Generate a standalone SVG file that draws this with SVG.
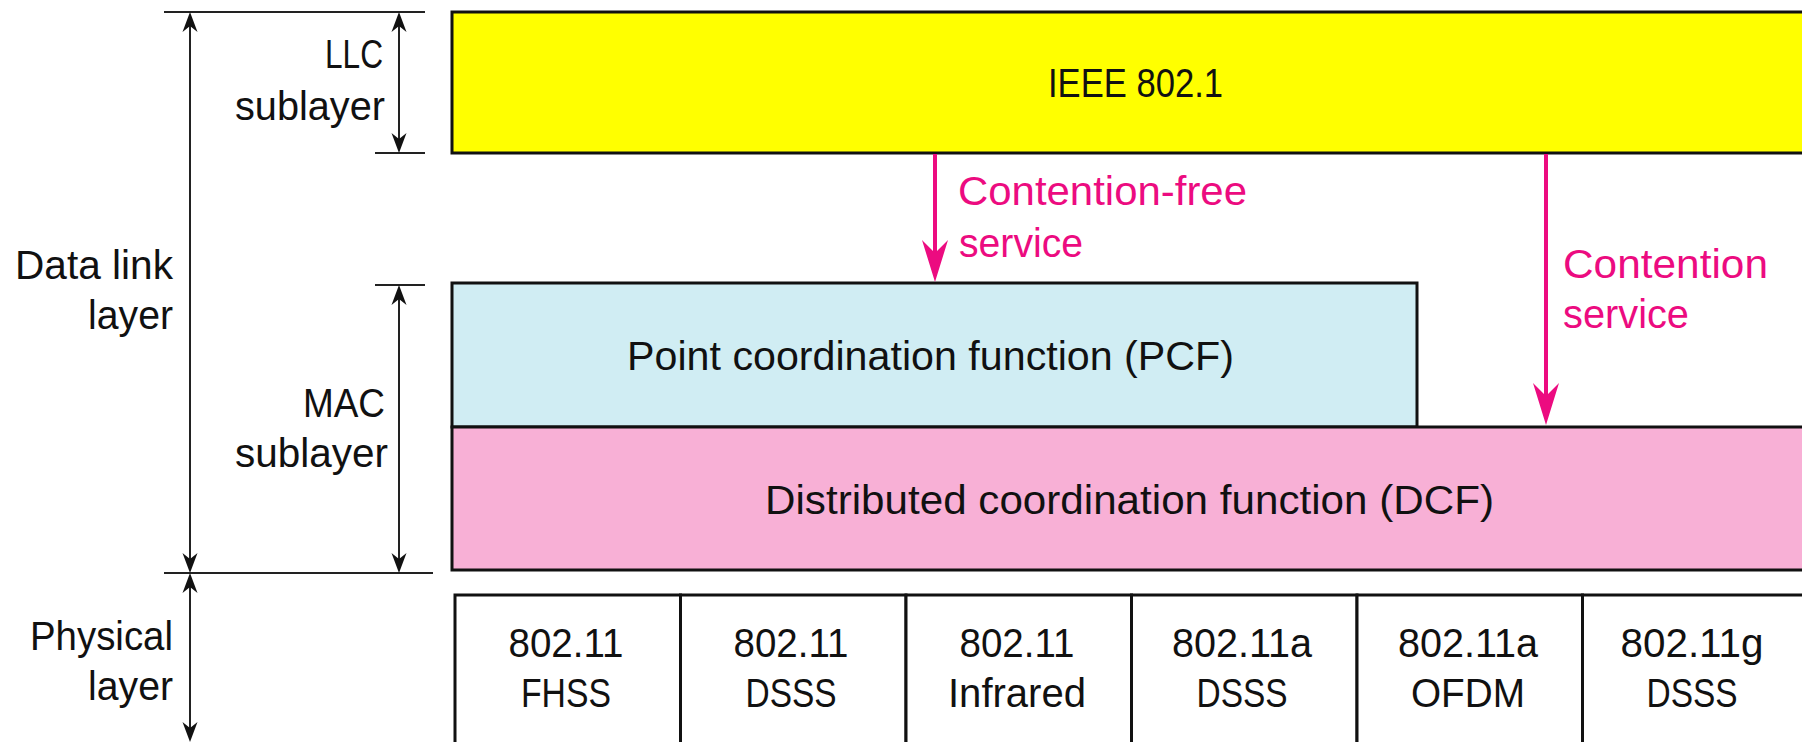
<svg xmlns="http://www.w3.org/2000/svg" width="1802" height="742" viewBox="0 0 1802 742">
<style>
text{font-family:"Liberation Sans",Arial,sans-serif;font-size:41px;fill:#111}
.pink{fill:#EC0B80}
.box{stroke:#111;stroke-width:3}
.dim{stroke:#222;stroke-width:2;fill:none}
.parr{stroke:#EC0B80;stroke-width:4;fill:none}
.mid{text-anchor:middle}
</style>
<defs>
<marker id="bk" markerUnits="userSpaceOnUse" markerWidth="22" markerHeight="18" viewBox="0 -9 22 18" refX="6" refY="0" orient="auto-start-reverse">
<path d="M20,0 L0,-7.5 L6,0 L0,7.5 Z" fill="#111"/>
</marker>
<marker id="pk" markerUnits="userSpaceOnUse" markerWidth="44" markerHeight="30" viewBox="0 -15 44 30" refX="13" refY="0" orient="auto">
<path d="M42,0 L0,-13 L13,0 L0,13 Z" fill="#EC0B80"/>
</marker>
</defs>
<rect width="1802" height="742" fill="#fff"/>

<g id="llc">
<rect class="box" x="452" y="12" width="1380" height="141" fill="#FFFF00"/>
<text x="1048" y="97" textLength="175" lengthAdjust="spacingAndGlyphs">IEEE 802.1</text>
</g>
<g id="pcf">
<rect class="box" x="452" y="283" width="965" height="144" fill="#D0EDF3"/>
<text x="627" y="370" textLength="607" lengthAdjust="spacingAndGlyphs">Point coordination function (PCF)</text>
</g>
<g id="dcf">
<rect class="box" x="452" y="427" width="1380" height="143" fill="#F8B0D6"/>
<text x="765" y="514" textLength="729" lengthAdjust="spacingAndGlyphs">Distributed coordination function (DCF)</text>
</g>

<g id="phy1">
<rect class="box" x="455" y="595" width="225.5" height="170" fill="#fff"/>
<text class="mid" x="566" y="657" textLength="115" lengthAdjust="spacingAndGlyphs">802.11</text>
<text class="mid" x="566" y="707" textLength="90" lengthAdjust="spacingAndGlyphs">FHSS</text>
</g>
<g id="phy2">
<rect class="box" x="680.5" y="595" width="225.5" height="170" fill="#fff"/>
<text class="mid" x="791" y="657" textLength="115" lengthAdjust="spacingAndGlyphs">802.11</text>
<text class="mid" x="791" y="707" textLength="91" lengthAdjust="spacingAndGlyphs">DSSS</text>
</g>
<g id="phy3">
<rect class="box" x="906" y="595" width="225.5" height="170" fill="#fff"/>
<text class="mid" x="1017" y="657" textLength="115" lengthAdjust="spacingAndGlyphs">802.11</text>
<text class="mid" x="1017" y="707" textLength="138" lengthAdjust="spacingAndGlyphs">Infrared</text>
</g>
<g id="phy4">
<rect class="box" x="1131.5" y="595" width="225.5" height="170" fill="#fff"/>
<text class="mid" x="1242" y="657" textLength="140" lengthAdjust="spacingAndGlyphs">802.11a</text>
<text class="mid" x="1242" y="707" textLength="91" lengthAdjust="spacingAndGlyphs">DSSS</text>
</g>
<g id="phy5">
<rect class="box" x="1357" y="595" width="225.5" height="170" fill="#fff"/>
<text class="mid" x="1468" y="657" textLength="140" lengthAdjust="spacingAndGlyphs">802.11a</text>
<text class="mid" x="1468" y="707" textLength="114" lengthAdjust="spacingAndGlyphs">OFDM</text>
</g>
<g id="phy6">
<rect class="box" x="1582.5" y="595" width="240" height="170" fill="#fff"/>
<text class="mid" x="1692" y="657" textLength="143" lengthAdjust="spacingAndGlyphs">802.11g</text>
<text class="mid" x="1692" y="707" textLength="91" lengthAdjust="spacingAndGlyphs">DSSS</text>
</g>

<g id="labels">
<text x="15" y="279" textLength="158" lengthAdjust="spacingAndGlyphs">Data link</text>
<text x="88" y="329" textLength="85" lengthAdjust="spacingAndGlyphs">layer</text>
<text x="325" y="68" textLength="58" lengthAdjust="spacingAndGlyphs">LLC</text>
<text x="235" y="120" textLength="150" lengthAdjust="spacingAndGlyphs">sublayer</text>
<text x="303" y="417" textLength="82" lengthAdjust="spacingAndGlyphs">MAC</text>
<text x="235" y="467" textLength="153" lengthAdjust="spacingAndGlyphs">sublayer</text>
<text x="30" y="650" textLength="143" lengthAdjust="spacingAndGlyphs">Physical</text>
<text x="88" y="700" textLength="85" lengthAdjust="spacingAndGlyphs">layer</text>
<text class="pink" x="958" y="205" textLength="289" lengthAdjust="spacingAndGlyphs">Contention-free</text>
<text class="pink" x="959" y="257" textLength="124" lengthAdjust="spacingAndGlyphs">service</text>
<text class="pink" x="1563" y="278" textLength="205" lengthAdjust="spacingAndGlyphs">Contention</text>
<text class="pink" x="1563" y="328" textLength="126" lengthAdjust="spacingAndGlyphs">service</text>
</g>

<g id="connectors">
<line class="dim" x1="164" y1="12" x2="425" y2="12"/>
<line class="dim" x1="375" y1="153" x2="425" y2="153"/>
<line class="dim" x1="375" y1="285" x2="425" y2="285"/>
<line class="dim" x1="164" y1="573" x2="433" y2="573"/>
<line class="dim" x1="190" y1="26" x2="190" y2="559" marker-start="url(#bk)" marker-end="url(#bk)"/>
<line class="dim" x1="190" y1="587" x2="190" y2="728" marker-start="url(#bk)" marker-end="url(#bk)"/>
<line class="dim" x1="399" y1="26" x2="399" y2="139" marker-start="url(#bk)" marker-end="url(#bk)"/>
<line class="dim" x1="399" y1="299" x2="399" y2="559" marker-start="url(#bk)" marker-end="url(#bk)"/>
<line class="parr" x1="935" y1="154" x2="935" y2="253" marker-end="url(#pk)"/>
<line class="parr" x1="1546" y1="154" x2="1546" y2="396" marker-end="url(#pk)"/>
</g>
</svg>
